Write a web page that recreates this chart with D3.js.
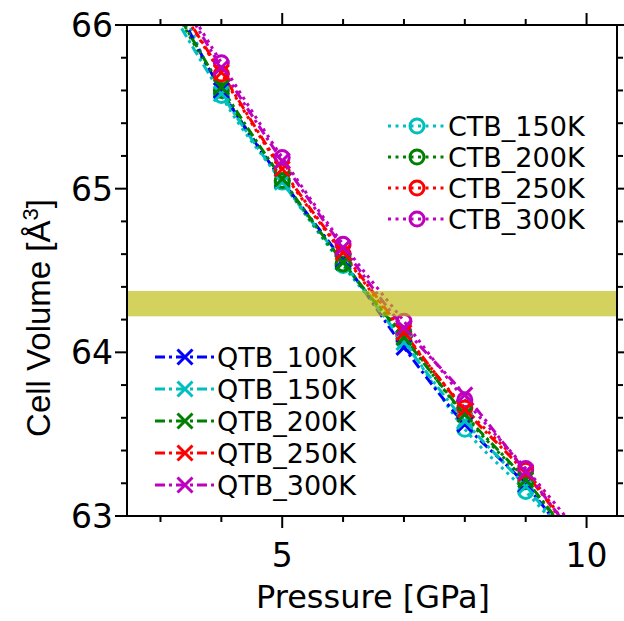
<!DOCTYPE html>
<html>
<head>
<meta charset="utf-8">
<script src="https://cdn.jsdelivr.net/npm/d3@7"></script>
<style>
  html, body { margin: 0; padding: 0; background: #fff; }
  svg { display: block; }
</style>
</head>
<body>
<script>
// pressures where the lines are drawn (3 and 10 are the line ends only)
const linePressures = [3, 4, 5, 6, 7, 8, 9, 10];
// pressures with markers
const markerPressures = [4, 5, 6, 7, 8, 9];

const ctbNames = ["CTB_150K", "CTB_200K", "CTB_250K", "CTB_300K"];
const ctbColors = ["#00bfbf", "#008000", "#ff0000", "#bf00bf"];
const ctb150 = [66.45, 65.57, 65.04, 64.53, 64.07, 63.53, 63.15, 62.73];
const ctb200 = [66.25, 65.60, 65.05, 64.54, 64.10, 63.61, 63.21, 62.74];
const ctb250 = [66.30, 65.70, 65.11, 64.60, 64.11, 63.66, 63.28, 62.76];
const ctb300 = [66.38, 65.77, 65.19, 64.66, 64.19, 63.71, 63.29, 62.84];

const qtbNames = ["QTB_100K", "QTB_150K", "QTB_200K", "QTB_250K", "QTB_300K"];
const qtbColors = ["#0000ff", "#00bfbf", "#008000", "#ff0000", "#bf00bf"];
const qtb100 = [66.31, 65.60, 65.05, 64.56, 64.03, 63.56, 63.19, 62.71];
const qtb150 = [66.20, 65.58, 65.04, 64.55, 64.06, 63.58, 63.18, 62.72];
const qtb200 = [66.25, 65.62, 65.06, 64.55, 64.09, 63.62, 63.22, 62.74];
const qtb250 = [66.30, 65.71, 65.12, 64.61, 64.12, 63.65, 63.26, 62.76];
const qtb300 = [66.37, 65.74, 65.17, 64.64, 64.15, 63.74, 63.27, 62.78];

// highlighted volume band
const band = [64.22, 64.375];

const xTicks = [5, 10];
const yTicks = [63, 64, 65, 66];

const W = 624, H = 621;
const pLeft = 127, pRight = 617, pTop = 25, pBottom = 516;

const svg = d3.select("body").append("svg")
    .attr("width", W)
    .attr("height", H);

const x = d3.scaleLinear().domain([2.45, 10.5]).range([pLeft, pRight]);
const y = d3.scaleLinear().domain([63, 66]).range([pBottom, pTop]);

svg.append("clipPath").attr("id", "plot-clip")
    .append("rect")
    .attr("x", pLeft).attr("y", pTop)
    .attr("width", pRight - pLeft).attr("height", pBottom - pTop);

const plot = svg.append("g").attr("clip-path", "url(#plot-clip)");

const line = d3.line()
    .x((d, i) => x(linePressures[i]))
    .y(d => y(d))
    .curve(d3.curveCatmullRom);

const ctbSeries = [ctb150, ctb200, ctb250, ctb300];
const qtbSeries = [qtb100, qtb150, qtb200, qtb250, qtb300];

const lw = 3;

// CTB: dotted lines with open circles
ctbSeries.forEach(function (vals, k) {
    plot.append("path")
        .attr("d", line(vals))
        .attr("fill", "none")
        .attr("stroke", ctbColors[k])
        .attr("stroke-width", lw)
        .attr("stroke-dasharray", "3,4.5");
});

// QTB: dash-dot lines with crosses
qtbSeries.forEach(function (vals, k) {
    plot.append("path")
        .attr("d", line(vals))
        .attr("fill", "none")
        .attr("stroke", qtbColors[k])
        .attr("stroke-width", lw)
        .attr("stroke-dasharray", "10,4,3,4");
});

function drawCircle(g, cx, cy, color) {
    g.append("circle")
        .attr("cx", cx).attr("cy", cy).attr("r", 7)
        .attr("fill", "none")
        .attr("stroke", color)
        .attr("stroke-width", lw);
}

function drawCross(g, cx, cy, color) {
    const s = 7.5;
    g.append("path")
        .attr("d", "M" + (cx - s) + "," + (cy - s) + "L" + (cx + s) + "," + (cy + s) +
            "M" + (cx - s) + "," + (cy + s) + "L" + (cx + s) + "," + (cy - s))
        .attr("stroke", color)
        .attr("stroke-width", lw)
        .attr("fill", "none");
}

ctbSeries.forEach(function (vals, k) {
    markerPressures.forEach(function (p) {
        const i = linePressures.indexOf(p);
        drawCircle(plot, x(p), y(vals[i]), ctbColors[k]);
    });
});

qtbSeries.forEach(function (vals, k) {
    markerPressures.forEach(function (p) {
        const i = linePressures.indexOf(p);
        drawCross(plot, x(p), y(vals[i]), qtbColors[k]);
    });
});

// band overlay
svg.append("rect")
    .attr("x", pLeft)
    .attr("y", y(band[1]))
    .attr("width", pRight - pLeft)
    .attr("height", y(band[0]) - y(band[1]))
    .attr("fill", "rgb(190,187,10)")
    .attr("opacity", 0.66);

// frame
svg.append("rect")
    .attr("x", pLeft).attr("y", pTop)
    .attr("width", pRight - pLeft).attr("height", pBottom - pTop)
    .attr("fill", "none")
    .attr("stroke", "#000")
    .attr("stroke-width", 2);

// ticks
const xMinor = d3.range(3, 11, 1).filter(v => xTicks.indexOf(v) < 0);
const yMinor = d3.range(63, 66.001, 0.2).filter(v => yTicks.indexOf(Math.round(v * 10) / 10) < 0);

const tickG = svg.append("g").attr("stroke", "#000").attr("stroke-width", 2);

function xTick(v, len) {
    tickG.append("line").attr("x1", x(v)).attr("x2", x(v)).attr("y1", pBottom).attr("y2", pBottom + len);
    tickG.append("line").attr("x1", x(v)).attr("x2", x(v)).attr("y1", pTop).attr("y2", pTop - len);
}
function yTick(v, len) {
    tickG.append("line").attr("y1", y(v)).attr("y2", y(v)).attr("x1", pLeft).attr("x2", pLeft - len);
    tickG.append("line").attr("y1", y(v)).attr("y2", y(v)).attr("x1", pRight).attr("x2", pRight + len);
}
xTicks.forEach(v => xTick(v, 12));
xMinor.forEach(v => xTick(v, 6));
yTicks.forEach(v => yTick(v, 12));
yMinor.forEach(v => yTick(v, 6));

const font = "DejaVu Sans, sans-serif";

svg.append("g").selectAll("text")
    .data(xTicks).join("text")
    .attr("x", d => x(d))
    .attr("y", 567)
    .attr("text-anchor", "middle")
    .attr("font-family", font)
    .attr("font-size", 33)
    .text(d => d);

svg.append("g").selectAll("text")
    .data(yTicks).join("text")
    .attr("x", 113)
    .attr("y", d => y(d))
    .attr("dy", "0.36em")
    .attr("text-anchor", "end")
    .attr("font-family", font)
    .attr("font-size", 33)
    .text(d => d);

svg.append("text")
    .attr("x", 373)
    .attr("y", 608)
    .attr("text-anchor", "middle")
    .attr("font-family", font)
    .attr("font-size", 32)
    .text("Pressure [GPa]");

const ylab = svg.append("text")
    .attr("transform", "translate(50,318) rotate(-90)")
    .attr("text-anchor", "middle")
    .attr("font-family", "Liberation Sans, Arial, sans-serif")
    .attr("font-size", 33);
ylab.append("tspan").text("Cell Volume [Å");
ylab.append("tspan").attr("dy", -12).attr("font-size", 22).text("3");
ylab.append("tspan").attr("dy", 12).text("]");

// legends
const legFont = 27;

const leg1 = svg.append("g");
ctbNames.forEach(function (name, k) {
    const ry = 126 + k * 31;
    leg1.append("line")
        .attr("x1", 388).attr("x2", 446).attr("y1", ry).attr("y2", ry)
        .attr("stroke", ctbColors[k]).attr("stroke-width", lw)
        .attr("stroke-dasharray", "3,4.5");
    drawCircle(leg1, 417, ry, ctbColors[k]);
    leg1.append("text")
        .attr("x", 448).attr("y", ry).attr("dy", "0.36em")
        .attr("font-family", font).attr("font-size", legFont)
        .text(name);
});

const leg2 = svg.append("g");
qtbNames.forEach(function (name, k) {
    const ry = 357 + k * 32;
    leg2.append("line")
        .attr("x1", 155).attr("x2", 214).attr("y1", ry).attr("y2", ry)
        .attr("stroke", qtbColors[k]).attr("stroke-width", lw)
        .attr("stroke-dasharray", "10,4,3,4");
    drawCross(leg2, 185, ry, qtbColors[k]);
    leg2.append("text")
        .attr("x", 217).attr("y", ry).attr("dy", "0.36em")
        .attr("font-family", font).attr("font-size", legFont)
        .text(name);
});
</script>
</body>
</html>
